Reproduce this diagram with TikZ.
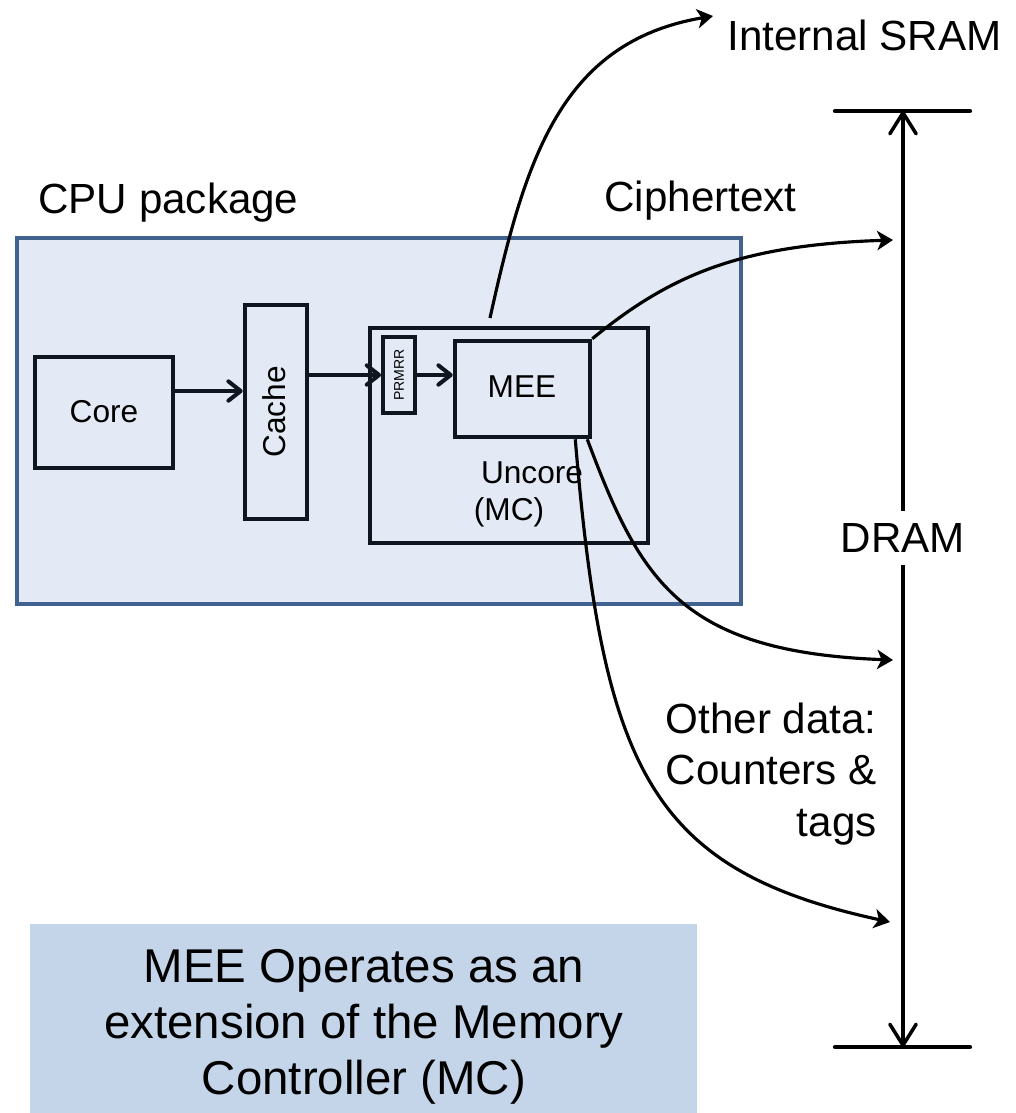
\documentclass[tikz,border=0pt]{standalone}
\usepackage{fontspec}
\setmainfont{Liberation Sans}
\usetikzlibrary{arrows.meta}
\definecolor{pkgfill}{HTML}{E3EAF5}
\definecolor{pkgdraw}{HTML}{41628F}
\definecolor{notefill}{HTML}{C4D5E9}
\definecolor{ink}{HTML}{10161F}
\begin{document}
\begin{tikzpicture}[x=0.02cm,y=-0.02cm,
  big/.style={font=\fontsize{24pt}{29.5pt}\selectfont, inner sep=0pt},
  mid/.style={font=\fontsize{18pt}{22pt}\selectfont, inner sep=0pt},
  blk/.style={draw=ink, line width=2.6pt, rectangle, inner sep=0pt},
  smallarr/.style={draw=ink, line width=2.3pt, -{Straight Barb[length=7pt,width=11pt,round]}},
  curvearr/.style={line width=1.8pt, -{Stealth[length=9pt,width=11pt,inset=2.5pt]}},
  dramarr/.style={line width=2pt, -{Straight Barb[length=12pt,width=15pt,round]}},
  bar/.style={line width=2.4pt, line cap=round}]
\useasboundingbox (0,0) rectangle (1015,1113);
% package
\node[draw=pkgdraw, fill=pkgfill, line width=2.1pt, minimum width=14.48cm, minimum height=7.32cm, inner sep=0pt] (pkg) at (379,421) {};
\node[big, anchor=base west] (pkglabel) at (38,213) {CPU package};
% note
\node[fill=notefill, minimum width=13.34cm, minimum height=3.78cm, inner sep=0pt] (note) at (363.5,1018.5) {};
\node[font=\fontsize{27pt}{31.75pt}\selectfont, align=center, inner sep=0pt] (notetext) at (364,1027) {MEE Operates as an\\extension of the Memory\\Controller (MC)};
% boxes
\node[blk, minimum width=2.76cm, minimum height=2.22cm] (core) at (104,412.5) {};
\node[mid] (coretext) at (104,412) {Core};
\node[blk, minimum width=1.24cm, minimum height=4.28cm] (cache) at (276,412) {};
\node[mid, rotate=90] (cachetext) at (274,412) {Cache};
\node[blk, line width=2.3pt, minimum width=5.56cm, minimum height=4.3cm] (uncore) at (509,435.5) {};
\node[mid] (uncoretext) at (532,473) {Uncore};
\node[mid] (mctext) at (509,512) {(MC)};
\node[blk, line width=2.2pt, minimum width=0.64cm, minimum height=1.52cm] (prmrr) at (399,375) {};
\node[font=\fontsize{8pt}{9pt}\selectfont, inner sep=0pt, rotate=90] (prmrrtext) at (399,375) {PRMRR};
\node[blk, minimum width=2.7cm, minimum height=1.92cm] (mee) at (522.5,389) {};
\node[mid] (meetext) at (522,387) {MEE};
% small arrows
\draw[smallarr] ([yshift=0.43cm]core.east) -- ([yshift=0.43cm]core.east -| cache.west);
\draw[smallarr] (cache.east |- prmrr.west) -- (prmrr.west);
\draw[smallarr] (prmrr.east) -- (prmrr.east -| mee.west);
% DRAM
\coordinate (dtop) at (903,111);
\coordinate (dbot) at (903,1047);
\coordinate (dtopl) at (835,111);
\coordinate (dtopr) at (970,111);
\coordinate (dbotl) at (835,1047);
\coordinate (dbotr) at (970,1047);
\draw[bar] (dtopl) -- (dtopr);
\draw[bar] (dbotl) -- (dbotr);
\node[big, inner ysep=7pt] (dram) at (903,538) {DRAM};
\draw[dramarr] (dram.north) -- (dtop);
\draw[dramarr] (dram.south) -- (dbot);
% labels
\node[big, anchor=base west] (sram) at (727,50) {Internal SRAM};
\node[big, anchor=base west] (cipher) at (604,211) {Ciphertext};
\node[big, align=right, anchor=east] (other) at (877,774) {Other data:\\Counters \&\\tags};
% curves
\coordinate (sramstart) at (490,318);
\coordinate (sramend) at (713,16);
\coordinate (cipherend) at (893,240);
\coordinate (aend) at (893,660);
\coordinate (bend) at (890,922);
\draw[curvearr] (sramstart) .. controls (525,160) and (560,42) .. (sramend);
\draw[curvearr] (mee.north east) .. controls (670,275) and (740,245) .. (cipherend);
\draw[curvearr] ([xshift=-0.1cm]mee.south east) .. controls (640,580) and (680,652) .. (aend);
\draw[curvearr] ([xshift=-0.34cm]mee.south east) .. controls (603,770) and (650,870) .. (bend);
\end{tikzpicture}
\end{document}
